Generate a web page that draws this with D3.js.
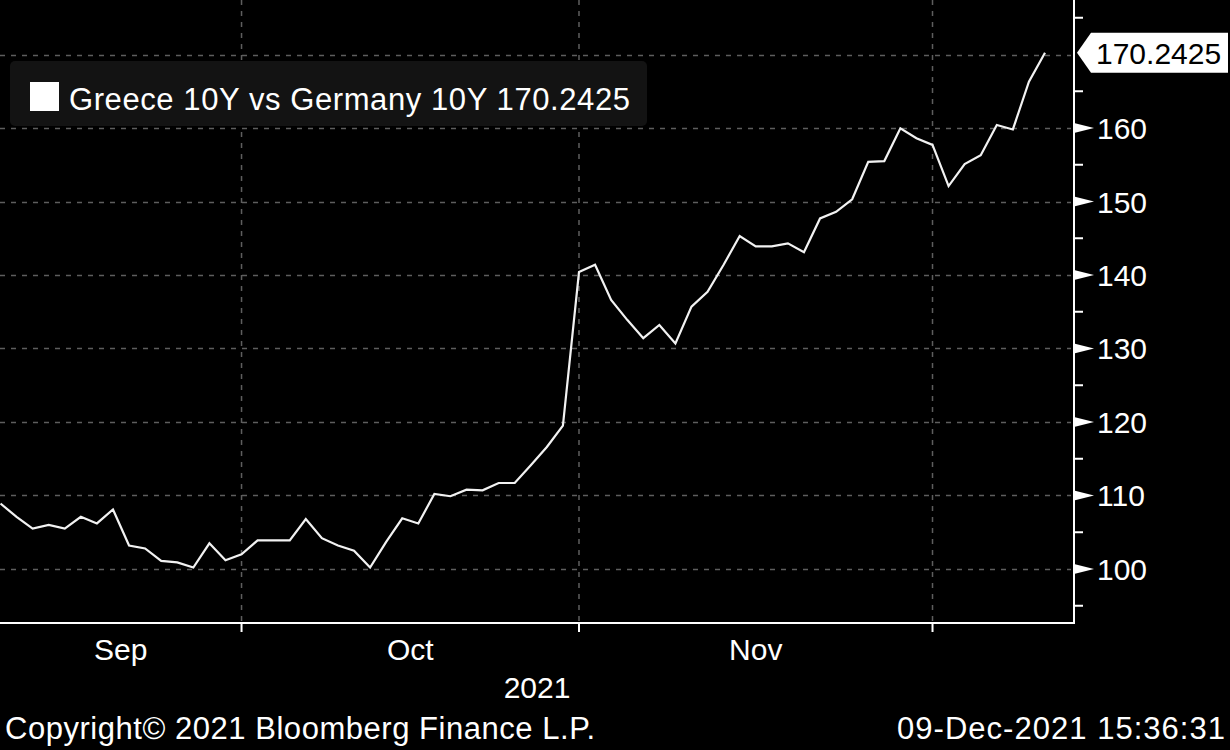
<!DOCTYPE html>
<html>
<head>
<meta charset="utf-8">
<script src="https://cdn.jsdelivr.net/npm/d3@7"></script>
<style>
  html, body { margin: 0; padding: 0; background: #000; }
  svg { display: block; }
  text { font-family: "Liberation Sans", Arial, sans-serif; }
</style>
</head>
<body>
<svg id="chart" width="1230" height="750"></svg>
<script>
// ---- data ----
const dates = [
  "2021-09-09","2021-09-10","2021-09-13","2021-09-14","2021-09-15","2021-09-16","2021-09-17",
  "2021-09-20","2021-09-21","2021-09-22","2021-09-23","2021-09-24","2021-09-27","2021-09-28",
  "2021-09-29","2021-09-30",
  "2021-10-01","2021-10-04","2021-10-05","2021-10-06","2021-10-07","2021-10-08","2021-10-11",
  "2021-10-12","2021-10-13","2021-10-14","2021-10-15","2021-10-18","2021-10-19","2021-10-20",
  "2021-10-21","2021-10-22","2021-10-25","2021-10-26","2021-10-27","2021-10-28","2021-10-29",
  "2021-11-01","2021-11-02","2021-11-03","2021-11-04","2021-11-05","2021-11-08","2021-11-09",
  "2021-11-10","2021-11-11","2021-11-12","2021-11-15","2021-11-16","2021-11-17","2021-11-18",
  "2021-11-19","2021-11-22","2021-11-23","2021-11-24","2021-11-25","2021-11-26","2021-11-29",
  "2021-11-30",
  "2021-12-01","2021-12-02","2021-12-03","2021-12-06","2021-12-07","2021-12-08","2021-12-09"
];
const spread = [
  108.9, 107.1, 105.5, 106.0, 105.5, 107.1, 106.2, 108.1, 103.2, 102.8, 101.1, 100.9, 100.2, 103.5,
  101.2, 102.0,
  103.9, 103.9, 103.9, 106.8, 104.2, 103.2, 102.5, 100.2, 103.7, 106.9, 106.2, 110.2, 109.9, 110.8,
  110.7, 111.7, 111.7, 114.1, 116.6, 119.5, 140.4,
  141.4, 136.6, 133.9, 131.4, 133.2, 130.7, 135.7, 137.7, 141.4, 145.3, 143.9, 143.9, 144.3,
  143.1, 147.7, 148.6, 150.3, 155.4, 155.5, 159.95, 158.6, 157.7,
  152.1, 155.1, 156.3, 160.4, 159.8, 166.3, 170.2425
];
const seriesName = "Greece 10Y vs Germany 10Y";
const lastValue = 170.2425;
const monthLabels = ["Sep", "Oct", "Nov"];
const monthEnds = ["2021-09-30", "2021-10-29", "2021-11-30"];
const yearLabel = "2021";
const majorTicks = [100, 110, 120, 130, 140, 150, 160];
const gridTicks = [100, 110, 120, 130, 140, 150, 160, 170];
const minorTicks = [95, 105, 115, 125, 135, 145, 155, 165, 175];
const copyright = "Copyright\u00A9 2021 Bloomberg Finance L.P.";
const timestamp = "09-Dec-2021 15:36:31";

// ---- layout ----
const plotLeft = 0, plotRight = 1074, plotTop = 0, plotBottom = 623;
const svg = d3.select("#chart");
svg.append("rect").attr("width", 1230).attr("height", 750).attr("fill", "#000");

const x = d3.scalePoint().domain(dates).range([0.5, 1045]);
const y = d3.scaleLinear().domain([92.653, 177.415]).range([plotBottom, plotTop]);

// grid
const grid = svg.append("g").attr("stroke", "#5e5e5e").attr("stroke-width", 1.5)
  .attr("stroke-dasharray", "5,6");
grid.selectAll("line.h").data(gridTicks).join("line").attr("class", "h")
  .attr("x1", plotLeft).attr("x2", plotRight - 3)
  .attr("y1", d => Math.round(y(d)) + 0.5).attr("y2", d => Math.round(y(d)) + 0.5);
grid.selectAll("line.v").data(monthEnds).join("line").attr("class", "v")
  .attr("x1", d => x(d)).attr("x2", d => x(d))
  .attr("y1", plotTop).attr("y2", plotBottom);

// legend box
svg.append("rect").attr("x", 10).attr("y", 61).attr("width", 637).attr("height", 65)
  .attr("rx", 5).attr("fill", "#131313");
svg.append("rect").attr("x", 30).attr("y", 82).attr("width", 29).attr("height", 29).attr("fill", "#fff");
svg.append("text").attr("x", 69).attr("y", 110).attr("fill", "#fff")
  .attr("font-size", 31).attr("textLength", 561).attr("lengthAdjust", "spacing")
  .text(seriesName + " " + lastValue.toFixed(4));

// line
const line = d3.line().x((d, i) => x(dates[i])).y(d => y(d));
svg.append("path").datum(spread).attr("d", line)
  .attr("fill", "none").attr("stroke", "#f2f2f2").attr("stroke-width", 2.2)
  .attr("stroke-linejoin", "miter");

// axes lines
const axis = svg.append("g").attr("stroke", "#fff").attr("stroke-width", 2);
axis.append("line").attr("x1", plotRight).attr("x2", plotRight).attr("y1", 0).attr("y2", plotBottom + 1);
axis.append("line").attr("x1", 0).attr("x2", plotRight + 1).attr("y1", plotBottom).attr("y2", plotBottom);

// month ticks below axis
axis.selectAll("line.mt").data(monthEnds).join("line").attr("class", "mt")
  .attr("x1", d => x(d)).attr("x2", d => x(d))
  .attr("y1", plotBottom).attr("y2", plotBottom + 9);

// minor ticks on right axis
axis.selectAll("line.mn").data(minorTicks).join("line").attr("class", "mn")
  .attr("x1", plotRight).attr("x2", plotRight + 9)
  .attr("y1", d => y(d)).attr("y2", d => y(d));

// major ticks: triangles
svg.append("g").selectAll("path").data(majorTicks).join("path")
  .attr("d", d => {
    const yy = y(d);
    return `M${plotRight},${yy - 5}L${plotRight + 20},${yy}L${plotRight},${yy + 5}Z`;
  })
  .attr("fill", "#fff");

// major tick labels
svg.append("g").selectAll("text").data(majorTicks).join("text")
  .attr("x", 1097).attr("y", d => y(d) + 11)
  .attr("fill", "#fff").attr("font-size", 30).text(d => d);

// last value box
const ly = y(lastValue);
svg.append("path")
  .attr("d", `M${plotRight + 3},${ly}L${plotRight + 17},${ly - 20}L1228,${ly - 20}L1228,${ly + 20}L${plotRight + 17},${ly + 20}Z`)
  .attr("fill", "#fff");
svg.append("text").attr("x", 1096).attr("y", ly + 11).attr("fill", "#000")
  .attr("font-size", 30).text(lastValue.toFixed(4));

// month labels, centred between boundaries
const bounds = [plotLeft].concat(monthEnds.map(d => x(d)));
svg.append("g").selectAll("text").data(monthLabels).join("text")
  .attr("x", (d, i) => (bounds[i] + bounds[i + 1]) / 2)
  .attr("y", 660).attr("text-anchor", "middle").attr("fill", "#fff")
  .attr("font-size", 30).text(d => d);

svg.append("text").attr("x", (plotLeft + plotRight) / 2).attr("y", 698)
  .attr("text-anchor", "middle").attr("fill", "#fff").attr("font-size", 30).text(yearLabel);

// footer
svg.append("text").attr("x", 5).attr("y", 739).attr("fill", "#fff")
  .attr("font-size", 31).attr("textLength", 590).attr("lengthAdjust", "spacing").text(copyright);
svg.append("text").attr("x", 897).attr("y", 739).attr("fill", "#fff")
  .attr("font-size", 31).attr("textLength", 328).attr("lengthAdjust", "spacing").text(timestamp);
</script>
</body>
</html>
